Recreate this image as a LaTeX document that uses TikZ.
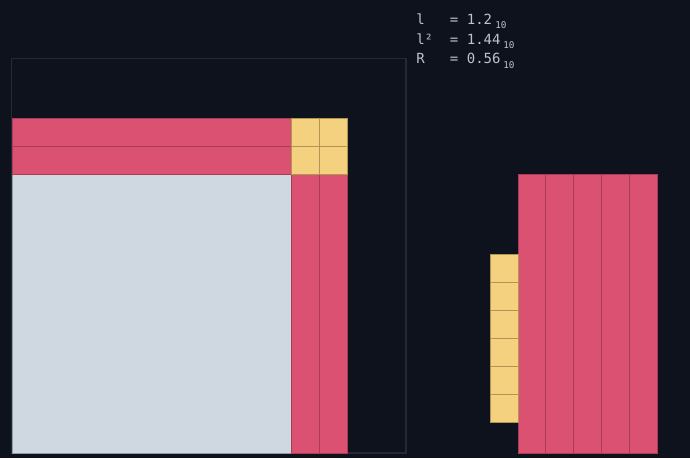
\documentclass[tikz,border=0pt]{standalone}
\usepackage{fontspec}
\newfontfamily\monofont{DejaVu Sans Mono}
\definecolor{bg}{HTML}{0E121D}
\definecolor{pinkc}{HTML}{DA5172}
\definecolor{pinkd}{HTML}{A83D59}
\definecolor{yelc}{HTML}{F4D17F}
\definecolor{yeld}{HTML}{B39553}
\definecolor{greyc}{HTML}{CFD7E1}
\definecolor{greyd}{HTML}{8E98A6}
\definecolor{framec}{HTML}{242935}
\definecolor{txt}{HTML}{BDC2CB}
\tikzset{
  pinkcell/.style={fill=pinkc, draw=pinkd, line width=0.75pt},
  yelcell/.style={fill=yelc, draw=yeld, line width=0.75pt},
  greycell/.style={fill=greyc, draw=greyd, line width=0.5pt},
  frame/.style={draw=framec, line width=0.9pt},
  lbl/.style={text=txt, anchor=base west, inner sep=0pt, font=\monofont\fontsize{10.5}{12}\selectfont},
  sub/.style={text=txt, anchor=base west, inner sep=0pt, font=\monofont\fontsize{7}{8}\selectfont}
}
\begin{document}
\begin{tikzpicture}[x=0.75pt,y=-0.75pt]
\fill[bg] (0,0) rectangle (690,458);
\useasboundingbox (0,0) rectangle (690,458);
% frame of area 2
\draw[frame] (11.5,58.5) rectangle (406,453);
% grey unit square
\draw[greycell] (12,174) rectangle (291,453);
% top pink strips
\draw[pinkcell] (12,118) rectangle (291,146);
\draw[pinkcell] (12,146) rectangle (291,174);
% right pink strips
\draw[pinkcell] (291,174) rectangle (319,453);
\draw[pinkcell] (319,174) rectangle (347,453);
% yellow corner
\foreach \x in {291,319} \foreach \y in {118,146}
  \draw[yelcell] (\x,\y) rectangle ++(28,28);
% right group: five pink strips
\foreach \i in {0,...,4}
  \draw[pinkcell] (518+27.8*\i,174) rectangle ++(27.8,279);
% yellow column
\foreach \j in {0,...,5}
  \draw[yelcell] (490,254+28*\j) rectangle ++(28,28);
% labels
\node[lbl] (t1) at (416,24) {l\ \ \ = 1.2};
\node[sub] (s1) at (495,28.5) {10};
\node[lbl] (t2) at (416,44) {l²\ \ = 1.44};
\node[sub] (s2) at (503,48.5) {10};
\node[lbl] (t3) at (416,63.5) {R\ \ \ = 0.56};
\node[sub] (s3) at (503,68) {10};
\end{tikzpicture}
\end{document}
